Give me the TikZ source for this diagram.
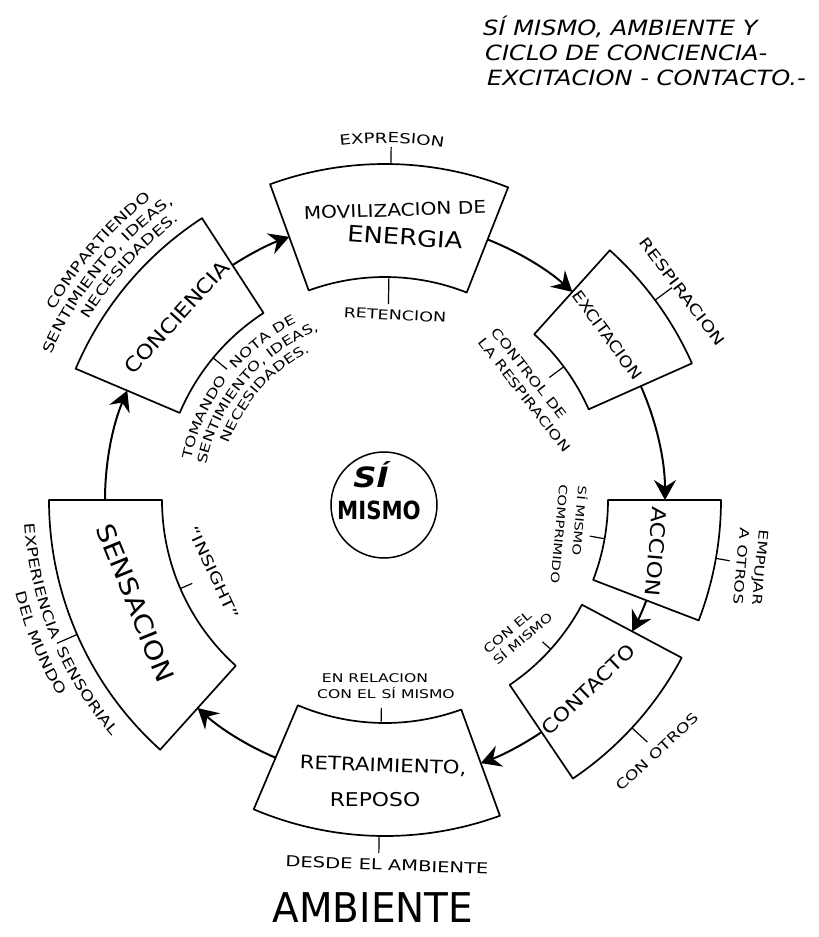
\documentclass[tikz,border=0pt]{standalone}
\usepackage{fontspec}
\setmainfont{DejaVu Sans}
\newfontfamily\hand{DejaVu Sans}[FakeStretch=1.15]
\newfontfamily\handw{DejaVu Sans}[FakeStretch=1.3]
\newfontfamily\handn{DejaVu Sans}[FakeStretch=0.85]
\newfontfamily\handm{DejaVu Sans}[FakeStretch=0.95]
\usetikzlibrary{arrows.meta,decorations.text}
\newcommand{\hf}[2]{\hand\fontsize{#1}{#2}\selectfont}
\newcommand{\hw}[2]{\handw\fontsize{#1}{#2}\selectfont}
\newcommand{\ringsector}[2]{\draw[boxline] (#1:223pt) arc[start angle=#1,end angle=#2,radius=223pt] -- (#2:336pt) arc[start angle=#2,end angle=#1,radius=336pt] -- cycle;}
\newcommand{\rtick}[3]{\draw[tickline] (#1:#2pt) -- (#1:#3pt);}
% #1 radius, #2 start angle, #3 end angle, #4 align, #5 size, #6 text
\newcommand{\arctext}[6]{\path[decorate,decoration={text along path,text align=#4,text={|\hw{#5}{#5}|#6}}] (#2:#1pt) arc[start angle=#2,end angle=#3,radius=#1pt];}
\begin{document}
\begin{tikzpicture}[x=1pt,y=1pt,
  boxline/.style={line width=1.7pt,line join=round},
  flow/.style={line width=2pt,-{Stealth[length=20pt,width=22pt,inset=7pt]}},
  tickline/.style={line width=1.2pt},
  lbl/.style={inner sep=0pt,text=black}]
\useasboundingbox (-385,-437) rectangle (434,500);
\fill[white] (-385,-437) rectangle (434,500);

% ---- boxes (ring sectors) ----
\ringsector{68.5}{110}
\ringsector{24}{48}
\ringsector{-21}{0}
\ringsector{-56}{-28}
\ringsector{-113}{-70}
\ringsector{180}{228}
\ringsector{123}{157}

% ---- cycle arrows ----
\coordinate (a1) at (123:280pt);
\draw[flow] (a1) arc[start angle=123,end angle=110,radius=280pt];
\coordinate (a2) at (68.5:280pt);
\draw[flow] (a2) arc[start angle=68.5,end angle=48,radius=280pt];
\coordinate (a3) at (24:280pt);
\draw[flow] (a3) arc[start angle=24,end angle=0,radius=280pt];
\coordinate (a4) at (-21:280pt);
\draw[flow] (a4) arc[start angle=-21,end angle=-28,radius=280pt];
\coordinate (a5) at (-56:280pt);
\draw[flow] (a5) arc[start angle=-56,end angle=-70,radius=280pt];
\coordinate (a6) at (-113:280pt);
\draw[flow] (a6) arc[start angle=-113,end angle=-132,radius=280pt];
\coordinate (a7) at (180:280pt);
\draw[flow] (a7) arc[start angle=180,end angle=157,radius=280pt];

% ---- ticks ----
\rtick{89}{336}{353}
\rtick{89}{223}{196}
\rtick{36.5}{336}{357}
\rtick{36.7}{223}{205}
\rtick{-10}{336}{350}
\rtick{-10}{223}{208}
\rtick{-42}{223}{212}
\rtick{-42.7}{336}{357}
\rtick{-91}{223}{208}
\rtick{-91}{336}{353}
\rtick{203.4}{223}{210}
\rtick{203.6}{336}{358}
\rtick{140.4}{223}{205}

% ---- box texts ----
\node[lbl,rotate=2,font=\hf{17.5}{20}] (movil) at (10,290) {MOVILIZACION DE};
\node[lbl,rotate=-4,font=\hf{22.5}{25}] (energia) at (20,263) {ENERGIA};
\node[lbl,rotate=-54,font=\hf{15.5}{18}] (excit) at (36.6:277pt) {EXCITACION};
\node[lbl,rotate=-95,font=\hf{20}{22}] (accion) at (-10.7:276pt) {ACCION};
\node[lbl,rotate=44,font=\hf{19}{22}] (contacto) at (-43:278pt) {CONTACTO};
\node[lbl,rotate=-2,font=\hf{18.5}{21}] (retra) at (-2,-266) {RETRAIMIENTO,};
\node[lbl,font=\hf{19}{22}] (reposo) at (-10,-300) {REPOSO};
\node[lbl,rotate=-68,font=\hf{25}{28}] (sensacion) at (202.4:270pt) {SENSACION};
\node[lbl,rotate=48,font=\hf{20}{22}] (conciencia) at (138.7:277pt) {CONCIENCIA};

% ---- labels ----
\arctext{357}{128.9}{48.9}{center}{14}{EXPRESION}
\node[lbl,rotate=-3,font=\hw{13.5}{16}] (retencion) at (10,185) {RETENCION};
\node[lbl,rotate=-53,font=\hw{15}{17}] (respir) at (35:363pt) {RESPIRACION};
\node[lbl,rotate=-52,align=left,font=\hw{13}{17}] (control) at (37:183pt) {CONTROL DE\\LA RESPIRACION};
\node[lbl,rotate=-95,align=left,font=\hw{13}{19}] (empujar) at (-10.4:372pt) {EMPUJAR\\A OTROS};
\node[lbl,rotate=-95,align=left,font=\hw{11.5}{19}] (comprim) at (-10.7:188pt) {SÍ MISMO\\COMPRIMIDO};
\node[lbl,rotate=40,align=left,font=\hw{12}{15}] (conel) at (-45:188pt) {CON EL\\SÍ MISMO};
\node[lbl,rotate=43,font=\hw{13.5}{16}] (conotros) at (-42.8:371pt) {CON OTROS};
\node[lbl,font=\hw{12}{14}] (enrel) at (-10,-178.5) {EN RELACION};
\node[lbl,font=\hw{12}{14}] (conelsm) at (1,-193.5) {CON EL\hspace{6pt}SÍ MISMO};
\node[lbl,rotate=-2,font=\hw{15}{17}] (desde) at (2,-365) {DESDE EL AMBIENTE};
\node[lbl,rotate=-65,font=\hw{15}{17}] (insight) at (203:186pt) {“INSIGHT”};
\arctext{361}{160}{202.8}{right}{14}{EXPERIENCIA}
\arctext{361}{204.5}{250}{left}{14}{SENSORIAL}
\arctext{381}{170}{235}{center}{14}{DEL MUNDO}
\arctext{381}{179}{99}{center}{14}{COMPARTIENDO}
\arctext{364}{181}{101}{center}{14}{SENTIMIENTO, IDEAS,}
\arctext{347}{177.5}{97.5}{center}{14}{NECESIDADES.}
\arctext{198}{185}{142.6}{right}{13}{TOMANDO}
\arctext{198}{138.8}{95}{left}{13}{NOTA DE}
\arctext{182}{190}{90}{center}{13}{SENTIMIENTO, IDEAS,}
\arctext{166}{188.5}{88.5}{center}{13}{NECESIDADES.}

% ---- centre ----
\node[draw,circle,line width=1.5pt,minimum size=106pt,inner sep=0pt] (simismo) at (-1,-5) {};
\node[lbl,font=\hf{28}{30}\bfseries\itshape] (si) at (-14,25) {SÍ};
\node[lbl,font=\handn\fontsize{25}{27}\selectfont\bfseries] (mismo) at (-6,-10) {MISMO};

% ---- title and environment ----
\node[lbl,anchor=west,font=\hf{21}{24}\itshape] (t1) at (98,473) {SÍ MISMO, AMBIENTE Y};
\node[lbl,anchor=west,font=\hf{21}{24}\itshape] (t2) at (100,447) {CICLO DE CONCIENCIA-};
\node[lbl,anchor=west,font=\hf{21}{24}\itshape] (t3) at (102,422) {EXCITACION - CONTACTO.-};
\node[lbl,font=\handm\fontsize{41}{43}\selectfont] (ambiente) at (-12,-408) {AMBIENTE};
\end{tikzpicture}
\end{document}
